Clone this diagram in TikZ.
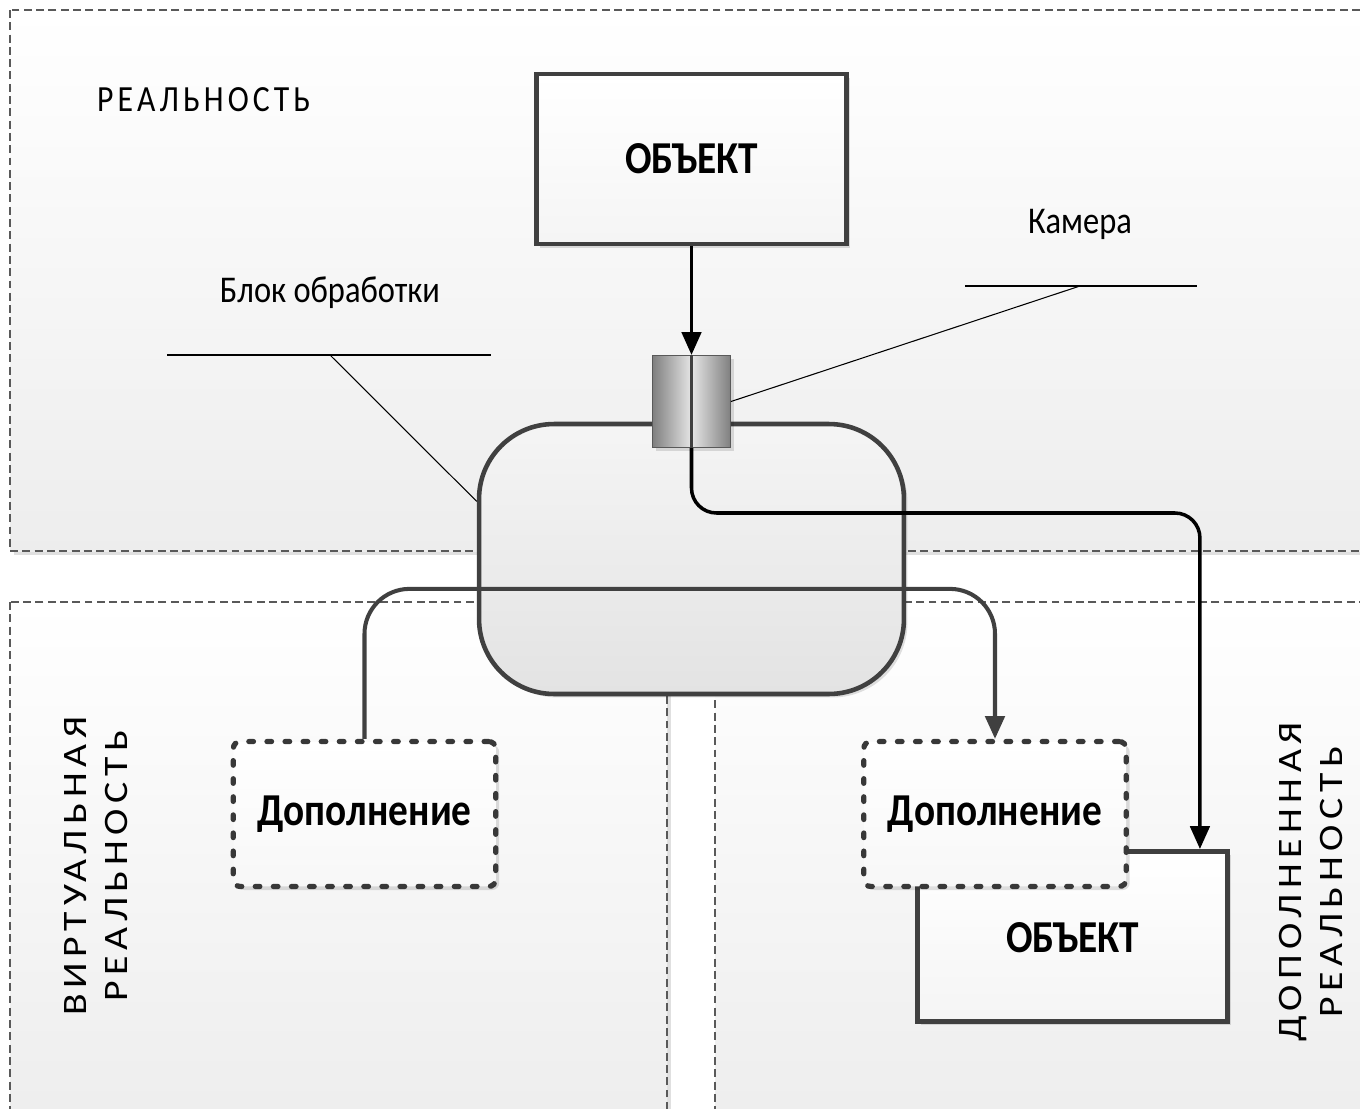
\documentclass[tikz,border=0pt]{standalone}
\usepackage{fontspec}
\setmainfont{Carlito}[FakeStretch=0.86]
\newfontfamily\regionfont{Carlito}[FakeStretch=0.86,LetterSpace=11]
\newfontfamily\rotfont{Carlito}[FakeStretch=1.16,LetterSpace=16]
\usetikzlibrary{arrows.meta,shadows}

\tikzset{
  softshadow/.style={drop shadow={shadow xshift=2pt,shadow yshift=-2pt,fill=black,opacity=0.12}},
  region/.style={draw=black!65,line width=0.75pt,dash pattern=on 4.5pt off 2.5pt,top color=white,bottom color=black!7,softshadow},
  regiontxt/.style={font=\regionfont\fontsize{21}{25}\selectfont},
  sidetxt/.style={font=\rotfont\fontsize{19.5}{23.5}\selectfont,rotate=90,align=center},
  objbox/.style={draw=black!75,line width=2.8pt,minimum width=6.2cm,minimum height=3.4cm,top color=white,bottom color=black!4,softshadow,font=\bfseries\fontsize{26}{30}\selectfont},
  addbox/.style={draw=black!78,line width=3pt,dash pattern=on 2.6pt off 7.7pt,line cap=round,rounded corners=4pt,minimum width=5.25cm,minimum height=2.9cm,top color=white,bottom color=black!3,softshadow,font=\bfseries\fontsize{26}{30}\selectfont},
  procblock/.style={draw=black!75,line width=2.6pt,rounded corners=1.5cm,minimum width=8.5cm,minimum height=5.4cm,top color=black!4,bottom color=black!11,softshadow},
  camera/.style={draw=black!65,line width=0.6pt,minimum width=1.56cm,minimum height=1.84cm,left color=black!50,right color=black!50,middle color=black!10,softshadow},
  flow/.style={line width=2pt,rounded corners=0.5cm,-{Triangle[length=13pt,width=11pt]}},
  link/.style={draw=black!75,line width=2.3pt,rounded corners=0.9cm,-{Triangle[length=13pt,width=11pt]}},
  note/.style={font=\fontsize{21.5}{25}\selectfont},
  leader/.style={line width=0.6pt}
}

\begin{document}
\begin{tikzpicture}[x=0.02cm,y=-0.02cm]
\useasboundingbox (0,0) rectangle (1360,1109);
\clip (0,0) rectangle (1360,1109);

% regions
\path[region] (10,10) rectangle (1380,551);
\path[region] (10,602) rectangle (667,1130);
\path[region] (715,602) rectangle (1380,1130);
\node[regiontxt,anchor=west] (real) at (91,100) {РЕАЛЬНОСТЬ};
\node[sidetxt] (virt) at (96,866) {ВИРТУАЛЬНАЯ\\РЕАЛЬНОСТЬ};
\node[sidetxt] (augm) at (1311,882) {ДОПОЛНЕННАЯ\\РЕАЛЬНОСТЬ};

\node[objbox] (topobj) at (691.5,159) {ОБЪЕКТ};
\node[procblock] (block) at (691.5,559) {};
\node[objbox] (bobj) at (1072.5,936.5) {};
\node[font=\bfseries\fontsize{26}{30}\selectfont] at (1072.5,938) {ОБЪЕКТ};
\node[addbox] (ldop) at (364.5,814) {Дополнение};
\node[addbox] (rdop) at (995,814) {Дополнение};

\draw[link] (ldop.north) -- ++(0,-150) -| (rdop.north);
\draw[flow] (691.5,448) -- ++(0,65) -| ([xshift=-0.6cm]bobj.north east);

\node[camera] (cam) at (691.5,401.5) {};
\draw[black!75,line width=2pt] (cam.north) -- (cam.south);
\draw[flow] (topobj.south) -- (cam.north);

% labels
\node[note] (blocklbl) at (330,293) {Блок обработки};
\coordinate (blockknee) at (330,355);
\draw[leader] ([xshift=-3.26cm]blockknee) -- ([xshift=3.22cm]blockknee);
\draw[leader] (blockknee) -- (block.165);
\node[note] (camlbl) at (1080,224) {Камера};
\coordinate (camknee) at (1080,286);
\draw[leader] ([xshift=-2.3cm]camknee) -- ([xshift=2.34cm]camknee);
\draw[leader] (camknee) -- (cam.east);
\end{tikzpicture}
\end{document}
